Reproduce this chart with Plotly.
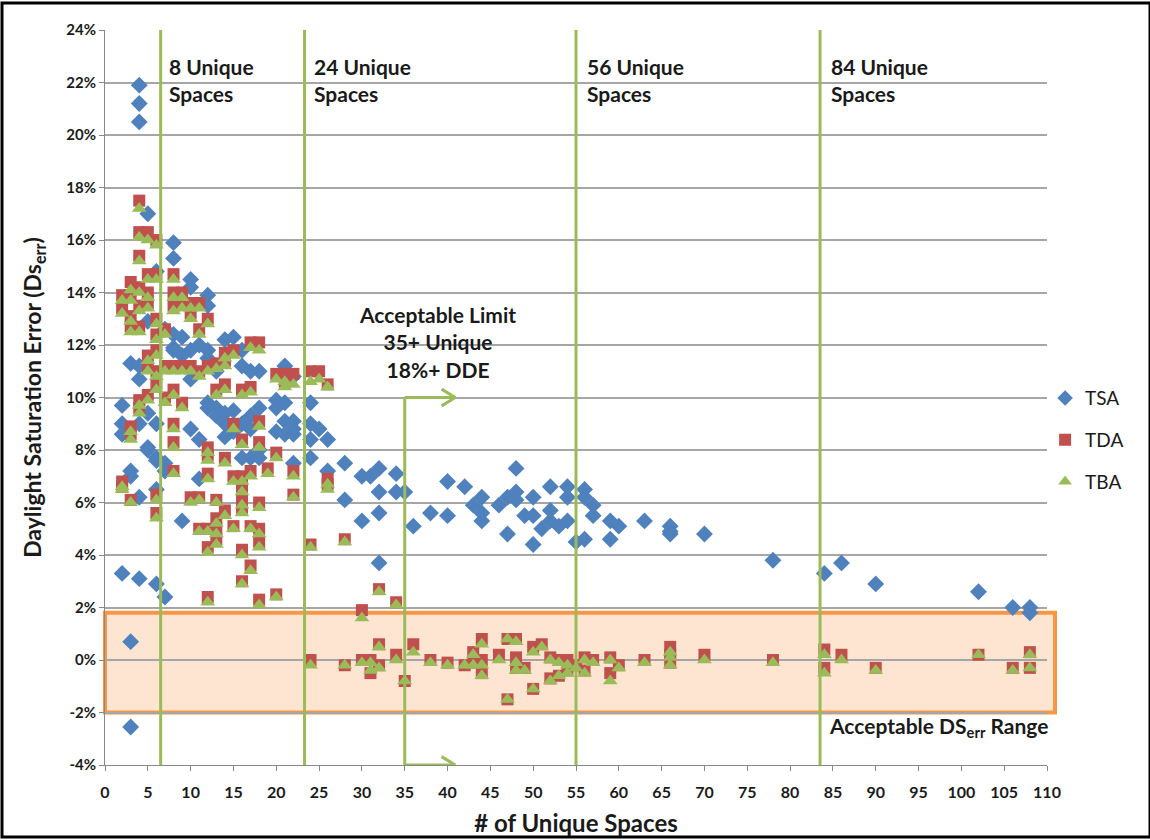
import plotly.graph_objects as go

# ---------------- data (percent) ----------------
tsa_x = [2, 2, 2, 2,
         3, 3, 3, 3, 3,
         4, 4, 4, 4, 4, 4, 4, 4,
         5, 5, 5, 5, 5,
         6, 6, 6, 6, 6, 6,
         7, 7, 7, 7,
         8, 8, 8, 8, 8,
         9, 9, 9,
         10, 10, 10, 10, 10,
         11, 11, 11,
         12, 12, 12, 12, 12, 12,
         13, 13, 13,
         14, 14, 14, 14,
         15, 15, 15,
         16, 16, 16, 16,
         17, 17, 17, 17,
         18, 18, 18, 18,
         20, 20, 20,
         21, 21, 21, 21,
         22, 22, 22, 22, 22,
         24, 24, 24, 24,
         25, 26, 26, 28, 28, 30, 30, 31,
         32, 32, 32, 32, 34, 34, 35, 36, 38, 40, 40, 42, 43,
         44, 44, 44, 46, 47, 47, 48, 48, 48, 49, 50, 50, 50, 51,
         52, 52, 52, 53, 54, 54, 54, 55, 56, 56, 56, 57, 57,
         59, 59, 60, 63, 66, 66, 66, 70, 78, 84, 86, 90, 102, 106, 108, 108]
tsa_y = [9.7, 9.0, 8.6, 3.3,
         11.3, 7.2, 7.0, 0.7, -2.55,
         21.9, 21.2, 20.5, 11.2, 10.7, 9.0, 6.2, 3.1,
         17.0, 12.9, 9.4, 8.1, 8.0,
         14.8, 9.0, 7.7, 7.6, 6.5, 2.9,
         12.6, 7.5, 7.2, 2.4,
         15.9, 15.3, 12.4, 11.9, 11.8,
         12.3, 11.6, 5.3,
         14.5, 14.2, 11.8, 10.7, 8.8,
         12.0, 8.4, 6.9,
         13.9, 13.5, 11.8, 11.5, 9.8, 9.6,
         11.0, 9.6, 9.3,
         12.2, 9.4, 9.0, 8.5,
         12.3, 9.5, 8.7,
         11.8, 11.2, 9.0, 7.7,
         11.0, 9.3, 8.8, 7.7,
         11.0, 9.6, 8.0, 7.7,
         9.9, 9.6, 8.7,
         11.2, 9.8, 9.1, 8.6,
         10.8, 9.1, 8.8, 8.6, 7.5,
         9.8, 9.0, 8.4, 7.7,
         8.8, 8.4, 7.2, 7.5, 6.1, 7.0, 5.3, 7.0,
         7.3, 6.4, 5.6, 3.7, 7.1, 6.4, 6.4, 5.1, 5.6, 6.8, 5.5, 6.6, 5.9,
         6.2, 5.6, 5.3, 5.9, 6.2, 4.8, 7.3, 6.4, 6.1, 5.5, 6.2, 5.5, 4.4, 5.0,
         6.6, 5.7, 5.3, 5.1, 6.6, 6.2, 5.3, 4.5, 6.5, 6.2, 4.6, 5.9, 5.5,
         5.3, 4.6, 5.1, 5.3, 5.1, 4.9, 4.8, 4.8, 3.8, 3.3, 3.7, 2.9, 2.6, 2.0, 2.0, 1.8]

tda_x = [2, 2, 2, 2,
         3, 3, 3, 3, 3, 3, 3,
         4, 4, 4, 4, 4, 4, 4, 4,
         5, 5, 5, 5, 5, 5, 5,
         6, 6, 6, 6, 6, 6, 6, 6, 6,
         7, 7, 7,
         8, 8, 8, 8, 8, 8, 8, 8,
         9, 9, 9, 9,
         10, 10, 10, 10,
         11, 11, 11, 11, 11,
         12, 12, 12, 12, 12, 12, 12, 12,
         13, 13, 13, 13, 13, 13,
         14, 14, 14, 14, 14,
         15, 15, 15, 15,
         16, 16, 16, 16, 16, 16, 16, 16,
         17, 17, 17, 17, 17,
         18, 18, 18, 18, 18, 18, 18,
         19, 20, 20, 20, 21, 21, 22, 22, 22,
         24, 24, 24, 25, 26, 26, 26, 28, 28,
         30, 30, 31, 31, 32, 32, 32, 34, 34, 35, 36, 38, 40, 42, 43, 43,
         44, 44, 44, 46, 47, 47, 48, 48, 48, 49, 50, 50, 51, 52, 52,
         53, 53, 54, 54, 55, 56, 56, 57, 59, 59, 60, 63, 66, 66, 66,
         70, 78, 84, 84, 86, 90, 102, 106, 108, 108]
tda_y = [13.9, 13.4, 6.8, 6.6,
         14.4, 13.9, 13.1, 12.7, 8.9, 8.6, 6.1,
         17.5, 16.3, 15.4, 14.2, 13.5, 12.7, 9.9, 9.6,
         16.3, 14.7, 14.0, 13.6, 11.6, 11.2, 10.1,
         16.0, 14.7, 13.0, 12.4, 11.8, 11.0, 10.5, 6.3, 5.6,
         12.6, 11.2, 10.0,
         14.7, 14.0, 13.5, 11.2, 10.3, 9.0, 8.3, 7.2,
         14.0, 13.6, 11.2, 9.8,
         13.6, 13.2, 11.2, 6.2,
         13.6, 12.6, 11.0, 6.2, 5.0,
         13.0, 11.2, 8.1, 7.8, 7.1, 5.0, 4.3, 2.4,
         11.3, 10.3, 6.1, 5.4, 5.0, 4.6,
         11.7, 11.4, 10.5, 7.7, 5.7,
         11.8, 9.0, 7.0, 5.1,
         10.3, 8.4, 7.0, 6.6, 6.1, 5.8, 4.2, 3.0,
         12.1, 10.4, 7.2, 5.1, 3.6,
         12.1, 9.1, 8.3, 6.0, 5.0, 4.5, 2.3,
         7.3, 10.9, 7.9, 2.5, 10.9, 10.6, 10.9, 7.2, 6.3,
         11.0, 4.4, 0.0, 11.0, 10.5, 6.9, 6.7, 4.6, -0.2,
         1.9, 0.0, 0.0, -0.5, 2.7, 0.6, -0.2, 2.2, 0.2, -0.8, 0.6, 0.0, -0.1, -0.2, 0.3, -0.1,
         0.8, 0.0, -0.5, 0.2, -1.5, 0.8, 0.8, 0.1, -0.3, -0.3, -1.1, 0.5, 0.6, 0.1, -0.7,
         0.0, -0.6, 0.0, -0.4, -0.2, 0.1, -0.4, 0.0, 0.1, -0.5, -0.2, 0.0, 0.5, 0.2, -0.1,
         0.2, 0.0, 0.4, -0.3, 0.2, -0.3, 0.2, -0.3, 0.3, -0.3]

tba_x = list(tda_x)
tba_y = [13.7, 13.2, 6.6, 6.5,
         14.1, 13.7, 12.9, 12.5, 8.7, 8.4, 6.0,
         17.2, 16.1, 15.2, 14.0, 13.3, 12.5, 9.7, 9.4,
         16.0, 14.5, 13.8, 13.4, 11.4, 11.0, 9.9,
         15.8, 14.5, 12.8, 12.2, 11.6, 10.8, 10.3, 6.1, 5.4,
         12.4, 11.0, 9.8,
         14.5, 13.8, 13.3, 11.0, 10.1, 8.8, 8.1, 7.1,
         13.8, 13.4, 11.0, 9.6,
         13.4, 13.0, 11.0, 6.0,
         13.4, 12.4, 10.8, 6.1, 4.9,
         12.8, 11.0, 7.9, 7.6, 6.9, 4.9, 4.1, 2.2,
         11.1, 10.1, 6.0, 5.2, 4.8, 4.4,
         11.5, 11.2, 10.3, 7.5, 5.5,
         11.6, 8.8, 6.8, 5.0,
         10.1, 8.2, 6.8, 6.4, 5.9, 5.6, 4.0, 2.9,
         11.9, 10.2, 7.0, 5.0, 3.4,
         11.8, 8.9, 8.1, 5.8, 4.8, 4.3, 2.1,
         7.1, 10.7, 7.7, 2.4, 10.6, 10.4, 10.5, 7.0, 6.2,
         10.6, 4.3, -0.2, 10.7, 10.4, 6.7, 6.5, 4.5, -0.2,
         1.6, -0.1, -0.1, -0.4, 2.6, 0.5, -0.3, 2.1, 0.0, -0.8, 0.3, -0.1, -0.2, -0.2, 0.2, -0.2,
         0.6, -0.2, -0.6, 0.0, -1.5, 0.8, 0.7, -0.1, -0.4, -0.4, -1.1, 0.3, 0.5, 0.0, -0.8,
         -0.1, -0.6, -0.2, -0.5, -0.3, 0.0, -0.5, -0.1, 0.0, -0.8, -0.3, -0.1, 0.3, 0.1, -0.2,
         0.0, -0.1, 0.2, -0.5, 0.0, -0.4, 0.2, -0.4, 0.2, -0.3]

series_names = ["TSA", "TDA", "TBA"]
limit_lines = [6.5, 23.3, 55, 83.5]
limit_labels = ["8 Unique<br>Spaces", "24 Unique<br>Spaces", "56 Unique<br>Spaces", "84 Unique<br>Spaces"]
y_ticks = list(range(-4, 25, 2))
y_ticktext = [f"{v}%" for v in y_ticks]
x_ticks = list(range(0, 111, 5))

# ---------------- figure ----------------
FONT = "Lato"
TXT = "#1a1a1a"
GREEN = "#9BBB59"
BLUE = "#4F81BD"
RED = "#C0504D"
ORANGE = "#F79646"

fig = go.Figure()
fig.add_trace(go.Scatter(x=tsa_x, y=tsa_y, mode="markers", name=series_names[0],
                         legendgroup="a",
                         marker=dict(symbol="diamond", size=13, color=BLUE)))
fig.add_trace(go.Scatter(x=tda_x, y=tda_y, mode="markers", name=series_names[1],
                         legendgroup="b",
                         marker=dict(symbol="square", size=12, color=RED)))
fig.add_trace(go.Scatter(x=tba_x, y=tba_y, mode="markers", name=series_names[2],
                         legendgroup="c",
                         marker=dict(symbol="triangle-up", size=13, color=GREEN)))

shapes = []
# acceptable range box (extends slightly beyond plot at right)
shapes.append(dict(type="rect", xref="paper", yref="y", x0=0, x1=1.0085, y0=-2.0, y1=1.8,
                   line=dict(color=ORANGE, width=4), fillcolor="rgba(247,150,70,0.25)",
                   layer="below"))
# vertical green lines
for xv in limit_lines:
    shapes.append(dict(type="line", xref="x", yref="y", x0=xv, x1=xv, y0=-4, y1=24,
                       line=dict(color=GREEN, width=3)))
# acceptable limit arrows
shapes.append(dict(type="line", xref="x", yref="y", x0=35, x1=35, y0=10, y1=-4,
                   line=dict(color=GREEN, width=3)))
for yv in (10, -4):
    shapes.append(dict(type="line", xref="x", yref="y", x0=35, x1=40.9, y0=yv, y1=yv,
                       line=dict(color=GREEN, width=3)))
    shapes.append(dict(type="line", xref="x", yref="y", x0=39.3, x1=40.9, y0=yv + 0.32, y1=yv,
                       line=dict(color=GREEN, width=3)))
    shapes.append(dict(type="line", xref="x", yref="y", x0=39.3, x1=40.9, y0=yv - 0.32, y1=yv,
                       line=dict(color=GREEN, width=3)))
# outer black frame
shapes.append(dict(type="rect", xref="paper", yref="paper",
                   x0=-103 / 942, x1=1045 / 942, y0=-72 / 735, y1=762 / 735,
                   line=dict(color="black", width=3), fillcolor="rgba(0,0,0,0)"))

annotations = []
label_x = [7.2, 24.2, 56.0, 84.5]
for lx, txt in zip(label_x, limit_labels):
    annotations.append(dict(x=lx, y=23.15, xref="x", yref="y", text=txt, showarrow=False,
                            xanchor="left", yanchor="top", align="left",
                            font=dict(family=FONT, size=21, color=TXT, weight="bold")))
annotations.append(dict(x=38.8, y=12.1, xref="x", yref="y",
                        text="Acceptable Limit<br>35+ Unique<br>18%+ DDE",
                        showarrow=False, xanchor="center", yanchor="middle", align="center",
                        font=dict(family=FONT, size=21, color=TXT, weight="bold")))
annotations.append(dict(x=84.3, y=-2.55, xref="x", yref="y",
                        text="Acceptable DS<sub>err</sub> Range",
                        showarrow=False, xanchor="left", yanchor="middle", align="left",
                        font=dict(family=FONT, size=21, color=TXT, weight="bold")))

fig.update_layout(
    width=1150, height=840,
    margin=dict(l=105, r=103, t=30, b=75),
    paper_bgcolor="white", plot_bgcolor="white",
    font=dict(family=FONT, color=TXT),
    shapes=shapes, annotations=annotations,
    showlegend=True,
    legend=dict(x=0.998, y=0.525, xanchor="left", yanchor="top",
                font=dict(family=FONT, size=19, color=TXT),
                tracegroupgap=14, itemsizing="constant", bgcolor="rgba(0,0,0,0)"),
    xaxis=dict(range=[0, 110], tickvals=x_ticks, ticks="outside", ticklen=5,
               tickcolor="#888888", showline=True, linecolor="#888888", linewidth=1,
               showgrid=False, zeroline=False, ticklabelstandoff=8, automargin=False,
               tickfont=dict(family=FONT, size=16, color=TXT, weight="bold"),
               title=dict(text="# of Unique Spaces", standoff=14,
                          font=dict(family=FONT, size=24, color=TXT, weight="bold"))),
    yaxis=dict(range=[-4, 24], tickvals=y_ticks, ticktext=y_ticktext, ticks="outside", ticklen=5,
               tickcolor="#888888", showline=True, linecolor="#888888", linewidth=1,
               showgrid=True, gridcolor="#A6A6A6", gridwidth=1.5, zeroline=False,
               automargin=False,
               tickfont=dict(family=FONT, size=15, color=TXT, weight="bold"),
               title=dict(text="Daylight Saturation Error (Ds<sub>err</sub>)", standoff=18,
                          font=dict(family=FONT, size=23, color=TXT, weight="bold"))),
)

fig.write_html("out.html")
